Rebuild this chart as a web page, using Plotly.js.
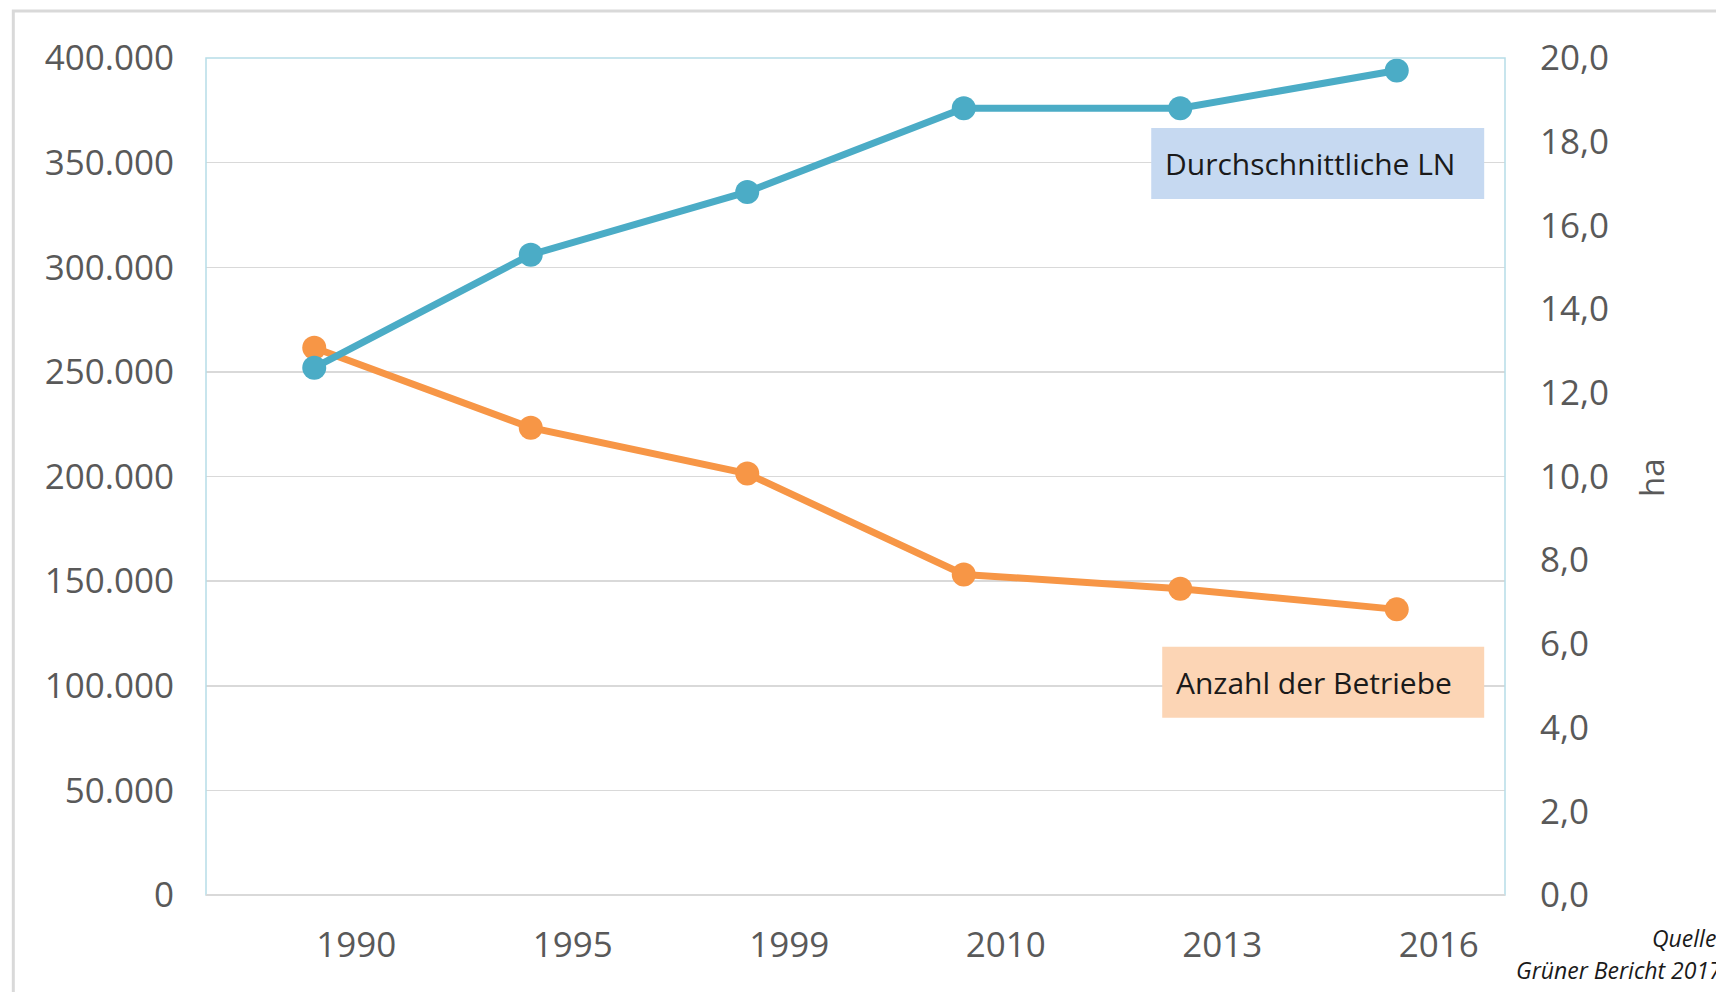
<!DOCTYPE html>
<html>
<head>
<meta charset="utf-8">
<script src="https://cdn.plot.ly/plotly-3.0.1.min.js"></script>
<style>html,body{margin:0;padding:0;background:#fff;}#chart{width:1716px;height:992px;}</style>
</head>
<body>
<div id="chart"></div>
<script>
// ---- data ----
const years = ["1990", "1995", "1999", "2010", "2013", "2016"];
const betriebe = [261500, 223300, 201400, 153200, 146400, 136500];   // Anzahl der Betriebe (left axis)
const flaecheHa = [12.6, 15.3, 16.8, 18.8, 18.8, 19.7];              // Durchschnittliche LN in ha (right axis)
const seriesNames = ["Anzahl der Betriebe", "Durchschnittliche LN"];
const axisTitleRight = "ha";
const sourceLines = ["Quelle:", "Grüner Bericht 2017"];

// ---- layout geometry (pixels) ----
const W = 1716, H = 992;
const L = 205.7, R = 1504.8, T = 58, B = 895.2;
const PW = R - L, PH = B - T;
const px = x => (x - L) / PW;
const py = y => (B - y) / PH;

const orange = "#f79646";
const blue = "#4bacc6";
const tickFont = {family: "Open Sans, sans-serif", size: 35, color: "#595959"};
const boxFont = {family: "Open Sans, sans-serif", size: 30, color: "#1a1a1a"};
const srcFont = {family: "Open Sans, sans-serif", size: 23, color: "#1a1a1a"};

const traces = [
  {
    x: years, y: betriebe, name: seriesNames[0], type: "scatter", mode: "lines+markers",
    yaxis: "y", line: {color: orange, width: 7}, marker: {color: orange, size: 24},
    hoverinfo: "x+y"
  },
  {
    x: years, y: flaecheHa, name: seriesNames[1], type: "scatter", mode: "lines+markers",
    yaxis: "y2", line: {color: blue, width: 7}, marker: {color: blue, size: 24},
    hoverinfo: "x+y"
  }
];

const layout = {
  width: W, height: H,
  margin: {l: L, r: W - R, t: T, b: H - B, pad: 0},
  paper_bgcolor: "#ffffff", plot_bgcolor: "#ffffff",
  separators: ",.",
  showlegend: false,
  xaxis: {
    type: "category", range: [-0.5, 5.5], fixedrange: true,
    showgrid: false, zeroline: false, showline: false, ticks: "",
    tickfont: tickFont, ticklabelshift: 42, ticklabelstandoff: 26
  },
  yaxis: {
    range: [0, 400000], dtick: 50000, tickformat: ",d",
    showgrid: true, gridcolor: "#d9d9d9", gridwidth: 1.5,
    zeroline: false, showline: false, ticks: "",
    tickfont: tickFont, ticklabelstandoff: 31
  },
  yaxis2: {
    range: [0, 20], dtick: 2, tickformat: ".1f", overlaying: "y", side: "right",
    showgrid: false, zeroline: false, showline: false, ticks: "",
    tickfont: tickFont, ticklabelstandoff: 34
  },
  shapes: [
    // outer chart border
    {type: "rect", xref: "paper", yref: "paper", x0: px(13), x1: px(W + 20), y0: py(H + 20), y1: py(11),
     line: {color: "#d9d9d9", width: 3}, fillcolor: "rgba(0,0,0,0)", layer: "below"},
    // plot area frame (light blue)
    {type: "rect", xref: "paper", yref: "paper", x0: 0, x1: 1, y0: 0, y1: 1,
     line: {color: "#b7dde8", width: 1.5}, fillcolor: "rgba(0,0,0,0)", layer: "above"},
    // bottom base line (grey)
    {type: "line", xref: "paper", yref: "paper", x0: 0, x1: 1, y0: 0, y1: 0,
     line: {color: "#d9d9d9", width: 2}, layer: "above"},
    // label boxes
    {type: "rect", xref: "paper", yref: "paper", x0: px(1151), x1: px(1484), y0: py(199), y1: py(128),
     line: {width: 0}, fillcolor: "#c6d9f1", layer: "above"},
    {type: "rect", xref: "paper", yref: "paper", x0: px(1162), x1: px(1484), y0: py(718), y1: py(647),
     line: {width: 0}, fillcolor: "#fcd5b5", layer: "above"}
  ],
  annotations: [
    {xref: "paper", yref: "paper", x: px(1163), y: py(163.5), xanchor: "left", yanchor: "middle",
     text: seriesNames[1], showarrow: false, font: boxFont},
    {xref: "paper", yref: "paper", x: px(1174), y: py(682.5), xanchor: "left", yanchor: "middle",
     text: seriesNames[0], showarrow: false, font: boxFont},
    {xref: "paper", yref: "paper", x: px(1652), y: py(478), xanchor: "center", yanchor: "middle",
     text: axisTitleRight, textangle: -90, showarrow: false,
     font: {family: "Open Sans, sans-serif", size: 33, color: "#595959"}},
    {xref: "paper", yref: "paper", x: px(1724), y: py(938), xanchor: "right", yanchor: "middle",
     text: "<i>" + sourceLines[0] + "</i>", showarrow: false, font: srcFont},
    {xref: "paper", yref: "paper", x: px(1724), y: py(970), xanchor: "right", yanchor: "middle",
     text: "<i>" + sourceLines[1] + "</i>", showarrow: false, font: srcFont}
  ]
};

Plotly.newPlot("chart", traces, layout, {displayModeBar: false, staticPlot: true});
</script>
</body>
</html>
